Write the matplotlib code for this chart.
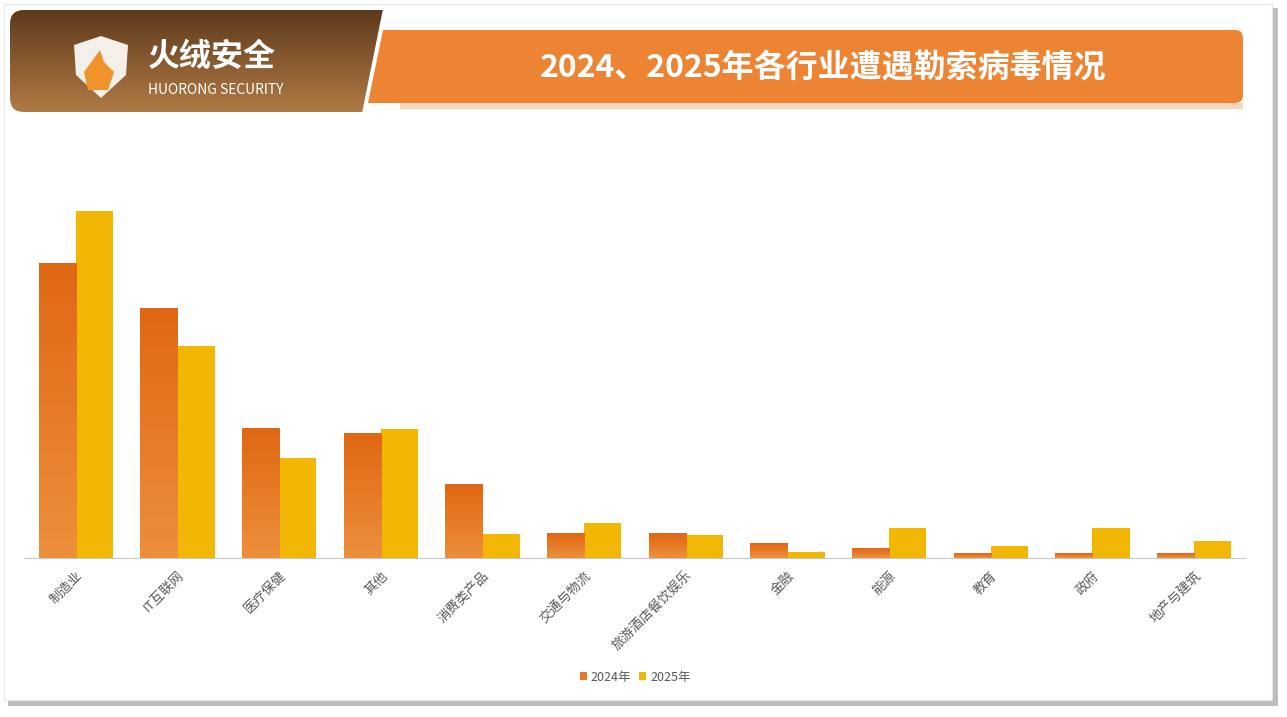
import numpy as np
import matplotlib.pyplot as plt
from matplotlib.patches import FancyBboxPatch, Polygon, Rectangle
from matplotlib.colors import LinearSegmentedColormap

plt.rcParams['font.family'] = ['Noto Sans CJK SC', 'DejaVu Sans']

# 數據 (相對高度，從圖上估讀)
categories = ['制造业', 'IT互联网', '医疗保健', '其他', '消费类产品', '交通与物流',
              '旅游酒店餐饮娱乐', '金融', '能源', '教育', '政府', '地产与建筑']
values_2024 = [295, 250, 130, 125, 74, 25, 25, 15, 10, 5, 5, 5]
values_2025 = [347, 212, 100, 129, 24, 35, 23, 6, 30, 12, 30, 17]
series_names = ['2024年', '2025年']
title = '2024、2025年各行业遭遇勒索病毒情况'

W, H = 1287, 717
fig = plt.figure(figsize=(W / 100, H / 100), dpi=100)
fig.patch.set_facecolor('white')

# 背景層（像素座標）
bg = fig.add_axes([0, 0, 1, 1])
bg.set_xlim(0, W)
bg.set_ylim(H, 0)
bg.axis('off')
# 卡片陰影
bg.add_patch(Rectangle((8, 8), 1270, 698, facecolor='#bdbdbd', edgecolor='none', zorder=0))
bg.add_patch(Rectangle((4, 4), 1268, 696, facecolor='white', edgecolor='#e6e6e6', lw=0.8, zorder=1))

# 橙色標題帶
bg.add_patch(FancyBboxPatch((350, 30), 893, 73, boxstyle='round,pad=0,rounding_size=8',
                            facecolor='#ED8433', edgecolor='none', zorder=2))
bg.add_patch(Rectangle((350, 103), 893, 6, facecolor='#f7d6bb', edgecolor='none', zorder=2))
bg.text(823, 68, title, color='white', fontsize=23, fontweight='bold',
        ha='center', va='center', zorder=5)

# 棕色 logo 區（漸變）
grad = np.linspace(0, 1, 100).reshape(-1, 1)
brown = LinearSegmentedColormap.from_list('brown', ['#5e3a1c', '#b07a45'])
im = bg.imshow(grad, cmap=brown, extent=(10, 383, 112, 10), aspect='auto', zorder=3)
clip = FancyBboxPatch((10, 10), 420, 102, boxstyle='round,pad=0,rounding_size=14',
                      facecolor='none', edgecolor='none', transform=bg.transData)
bg.add_patch(clip)
im.set_clip_path(clip)
# 斜切右邊
bg.add_patch(Polygon([(383, 9), (400, 9), (400, 113), (362, 113)], closed=True,
                     facecolor='white', edgecolor='none', zorder=3.5))
bg.add_patch(Polygon([(383, 30), (400, 30), (400, 103), (368, 103)], closed=True,
                     facecolor='#ED8433', edgecolor='none', zorder=3.6))
# 盾牌
bg.add_patch(Polygon([(74, 45), (101, 36), (128, 45), (126, 75), (101, 98), (76, 75)],
                     closed=True, facecolor='#f4efe9', edgecolor='none', zorder=4))
bg.add_patch(Polygon([(88, 90), (84, 72), (100, 50), (104, 62), (114, 72), (108, 90)],
                     closed=True, facecolor='#F0932B', edgecolor='none', zorder=5))
bg.text(148, 57, '火绒安全', color='white', fontsize=23, fontweight='bold',
        ha='left', va='center', zorder=5)
bg.text(148, 90, 'HUORONG SECURITY', color='white', fontsize=10,
        ha='left', va='center', zorder=5)

# 圖表
ax = fig.add_axes([25 / W, 1 - 558 / H, 1220 / W, 408 / H])
ax.set_zorder(6)
ax.patch.set_alpha(0)
x = np.arange(len(categories))
bw = 0.365
bars1 = ax.bar(x - bw / 2, values_2024, bw, color='#E8762A', label=series_names[0])
bars2 = ax.bar(x + bw / 2, values_2025, bw, color='#F2B705', label=series_names[1])

# 2024 柱狀漸變
orange = LinearSegmentedColormap.from_list('org', ['#ED8F3A', '#E06714'])
for b in bars1:
    b.set_facecolor('none')
    bx, by, bwid, bh = b.get_x(), b.get_y(), b.get_width(), b.get_height()
    g = ax.imshow(np.linspace(0, 1, 50).reshape(-1, 1), cmap=orange, origin='lower',
                  extent=(bx, bx + bwid, by, by + bh), aspect='auto', zorder=2)
    g.set_clip_path(b)

ax.set_xlim(-0.5, len(categories) - 0.5)
ax.set_ylim(0, 408)
ax.set_yticks([])
for s in ['top', 'right', 'left']:
    ax.spines[s].set_visible(False)
ax.spines['bottom'].set_color('#c8c8c8')
ax.set_xticks(x)
ax.set_xticklabels(categories, rotation=45, ha='right', rotation_mode='anchor',
                   fontsize=9.5, color='#595959')
ax.tick_params(axis='x', length=0, pad=8)

leg = fig.legend(handles=[bars1, bars2], labels=series_names, loc='center',
                 bbox_to_anchor=(635 / W, 1 - 677 / H), ncol=2, frameon=False,
                 fontsize=9, handlelength=0.6, handleheight=0.6, columnspacing=0.6,
                 handletextpad=0.3, labelcolor='#595959')
leg.legend_handles[0].set_facecolor('#E8762A')

fig.savefig('out.png', dpi=100)
